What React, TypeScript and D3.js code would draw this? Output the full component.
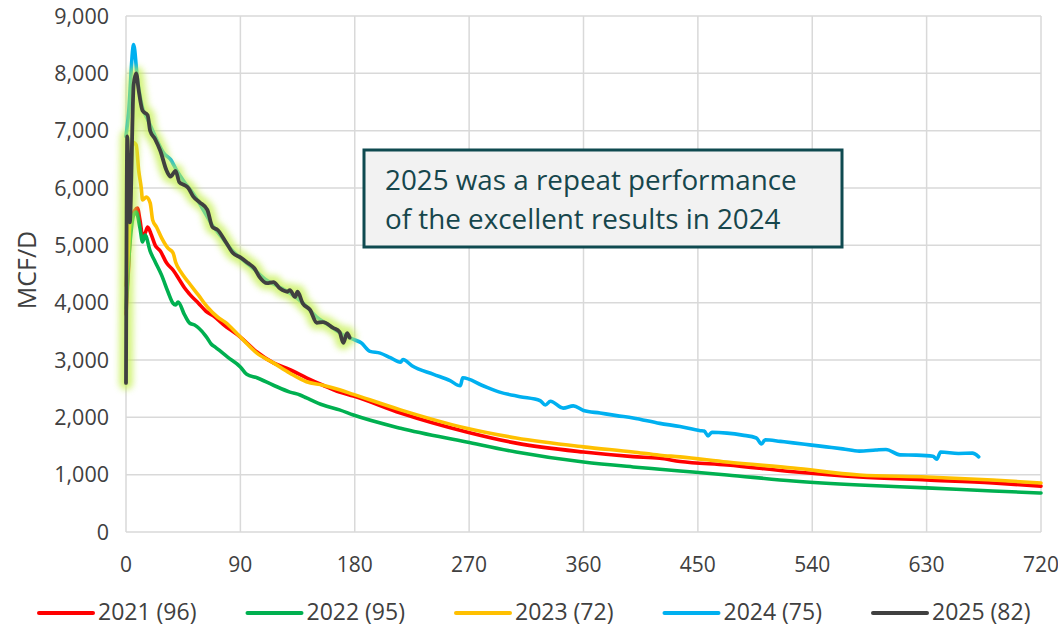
import React from "react";
import * as d3 from "d3";

// Days on production (x) and gas rate in MCF/D (y)
const xTicks = [0, 90, 180, 270, 360, 450, 540, 630, 720];
const yTicks = [0, 1000, 2000, 3000, 4000, 5000, 6000, 7000, 8000, 9000];

const legendLabels = ["2021 (96)", "2022 (95)", "2023 (72)", "2024 (75)", "2025 (82)"];

const rate2021: [number, number][] = [
  [0, 3800], [2, 4600], [4, 5440], [9, 5650], [11, 5440], [13, 5180], [15, 5210], [17, 5320],
  [20, 5180], [23, 5000], [27, 4900], [32, 4690], [37, 4570], [42, 4400], [46, 4260], [50, 4150],
  [57, 3990], [63, 3850], [70, 3750], [76, 3630], [90, 3400], [103, 3140], [116, 2950], [129, 2830],
  [142, 2690], [155, 2560], [168, 2440], [179, 2370], [216, 2075], [268, 1745], [307, 1550],
  [360, 1395], [399, 1315], [420, 1285], [436, 1230], [473, 1170], [525, 1050], [577, 960],
  [630, 907], [682, 855], [720, 800],
];

const rate2022: [number, number][] = [
  [0, 3900], [3, 5000], [6, 5530], [8, 5580], [11, 5300], [13, 5060], [15, 5180], [19, 4900],
  [23, 4710], [28, 4480], [33, 4190], [37, 3990], [39, 3960], [41, 4010], [46, 3790], [50, 3645],
  [54, 3610], [62, 3440], [64, 3380], [67, 3280], [70, 3230], [75, 3140], [80, 3050], [90, 2880],
  [95, 2750], [103, 2690], [116, 2560], [129, 2440], [137, 2390], [142, 2340], [155, 2215],
  [168, 2130], [179, 2040], [216, 1810], [268, 1570], [307, 1395], [360, 1220], [399, 1135],
  [420, 1095], [436, 1065], [473, 995], [525, 890], [577, 820], [630, 770], [682, 715], [720, 680],
];

const rate2023: [number, number][] = [
  [0, 4300], [3, 5440], [5, 6800], [8, 6750], [10, 6300], [12, 6000], [13, 5790], [16, 5840],
  [19, 5740], [21, 5440], [24, 5320], [28, 5130], [33, 4950], [37, 4870], [39, 4710], [43, 4540],
  [49, 4360], [57, 4130], [64, 3925], [72, 3750], [78, 3660], [90, 3400], [103, 3120], [116, 2950],
  [129, 2770], [142, 2620], [155, 2560], [168, 2480], [179, 2400], [216, 2130], [268, 1810],
  [307, 1640], [360, 1485], [399, 1395], [420, 1340], [436, 1310], [473, 1220], [525, 1115],
  [577, 995], [630, 960], [682, 907], [720, 855],
];

const rate2024: [number, number][] = [
  [0, 6900], [2, 7300], [6, 8500], [9, 7900], [13, 7400], [17, 7200], [23, 6900], [30, 6600],
  [35, 6500], [40, 6300], [46, 6100], [53, 5900], [60, 5650], [68, 5350], [75, 5150], [84, 4900],
  [90, 4780], [100, 4600], [110, 4400], [120, 4280], [130, 4150], [140, 3980], [150, 3750],
  [160, 3600], [170, 3450], [180, 3350], [185, 3300], [192, 3150], [200, 3120], [208, 3040],
  [216, 2960], [218, 3010], [225, 2900], [242, 2750], [255, 2640], [263, 2550], [265, 2690],
  [280, 2560], [294, 2440], [310, 2360], [326, 2290], [330, 2215], [334, 2280], [344, 2160],
  [352, 2200], [360, 2120], [373, 2075], [386, 2030], [399, 1990], [420, 1895], [436, 1840],
  [452, 1767], [455, 1760], [458, 1675], [461, 1740], [473, 1725], [485, 1690], [496, 1640],
  [500, 1535], [503, 1610], [515, 1580], [525, 1555], [538, 1520], [551, 1485], [564, 1450],
  [577, 1410], [590, 1430], [598, 1440], [609, 1345], [622, 1340], [635, 1320], [638, 1270],
  [641, 1395], [655, 1370], [666, 1375], [671, 1310],
];

const rate2025: [number, number][] = [
  [0, 2600], [1, 6900], [3, 5400], [6, 7800], [8, 8000], [10, 7700], [13, 7350], [17, 7270],
  [19, 7000], [23, 6850], [27, 6650], [32, 6300], [35, 6200], [39, 6300], [42, 6100], [46, 6050],
  [49, 6000], [53, 5850], [58, 5750], [64, 5620], [68, 5320], [72, 5270], [79, 5040], [84, 4870],
  [90, 4790], [96, 4690], [101, 4600], [105, 4450], [111, 4340], [116, 4360], [121, 4250],
  [127, 4190], [129, 4220], [133, 4100], [135, 4190], [139, 3990], [145, 3870], [150, 3650],
  [155, 3660], [163, 3560], [168, 3490], [171, 3300], [174, 3470], [176, 3390],
];

const series = [rate2021, rate2022, rate2023, rate2024, rate2025];
const colors = ["#ff0000", "#00b050", "#ffc000", "#00b0f0", "#404040"];

const note = ["2025 was a repeat performance", "of the excellent results in 2024"];

const W = 1058;
const H = 627;
const FONT = "'Open Sans', 'Noto Sans', sans-serif";

export default function App() {
  const x = d3.scaleLinear().domain([0, 720]).range([126, 1041]);
  const y = d3.scaleLinear().domain([0, 9000]).range([532, 16]);

  const line = d3
    .line<[number, number]>()
    .x((d) => x(d[0]))
    .y((d) => y(d[1]))
    .curve(d3.curveMonotoneX);

  const fmt = d3.format(",");

  return (
    <svg
      width={W}
      height={H}
      style={{ position: "absolute", left: 0, top: 0, background: "#fff" }}
      fontFamily={FONT}
    >
      <defs>
        <filter id="softGlow" x="-30%" y="-30%" width="160%" height="160%">
          <feGaussianBlur stdDeviation="3" />
        </filter>
      </defs>

      {/* gridlines */}
      {yTicks.map((t) => (
        <line key={"gy" + t} x1={x(0)} x2={x(720)} y1={y(t)} y2={y(t)} stroke="#d9d9d9" strokeWidth={1.5} />
      ))}
      {xTicks.map((t) => (
        <line key={"gx" + t} x1={x(t)} x2={x(t)} y1={y(0)} y2={y(9000)} stroke="#d9d9d9" strokeWidth={1.5} />
      ))}

      {/* tick labels */}
      {yTicks.map((t) => (
        <text key={"ty" + t} x={109} y={y(t)} dy="0.35em" textAnchor="end" fontSize={21.5} fill="#404040">
          {fmt(t)}
        </text>
      ))}
      {xTicks.map((t) => (
        <text key={"tx" + t} x={x(t)} y={565} dy="0.35em" textAnchor="middle" fontSize={21} fill="#404040">
          {t}
        </text>
      ))}
      <text
        transform={`translate(27, ${(y(0) + y(9000)) / 2 - 4}) rotate(-90)`}
        dy="0.35em"
        textAnchor="middle"
        fontSize={25}
        fill="#404040"
      >
        MCF/D
      </text>

      {/* annotation box */}
      <rect x={364} y={150} width={478} height={97} fill="#f2f2f2" stroke="#0f4a50" strokeWidth={3} />
      {note.map((s, i) => (
        <text key={"n" + i} x={385} y={190 + i * 39} fontSize={27.8} fill="#16464c">
          {s}
        </text>
      ))}

      {/* production curves */}
      {series.slice(0, 4).map((s, i) => (
        <path
          key={"s" + i}
          d={line(s) || ""}
          fill="none"
          stroke={colors[i]}
          strokeWidth={3.6}
          strokeLinejoin="round"
          strokeLinecap="round"
        />
      ))}
      <path
        d={line(rate2025) || ""}
        fill="none"
        stroke="#c2ef4a"
        strokeWidth={14}
        strokeLinejoin="round"
        strokeLinecap="round"
        opacity={0.7}
        filter="url(#softGlow)"
      />
      <path
        d={line(rate2025) || ""}
        fill="none"
        stroke={colors[4]}
        strokeWidth={3.8}
        strokeLinejoin="round"
        strokeLinecap="round"
      />

      {/* legend */}
      {legendLabels.map((lab, i) => {
        const lx = 39 + i * 208.5;
        return (
          <g key={"lg" + i}>
            <line x1={lx} x2={lx + 54} y1={613} y2={613} stroke={colors[i]} strokeWidth={4} strokeLinecap="round" />
            <text x={lx + 59} y={620} fontSize={23} fill="#404040">
              {lab}
            </text>
          </g>
        );
      })}
    </svg>
  );
}
